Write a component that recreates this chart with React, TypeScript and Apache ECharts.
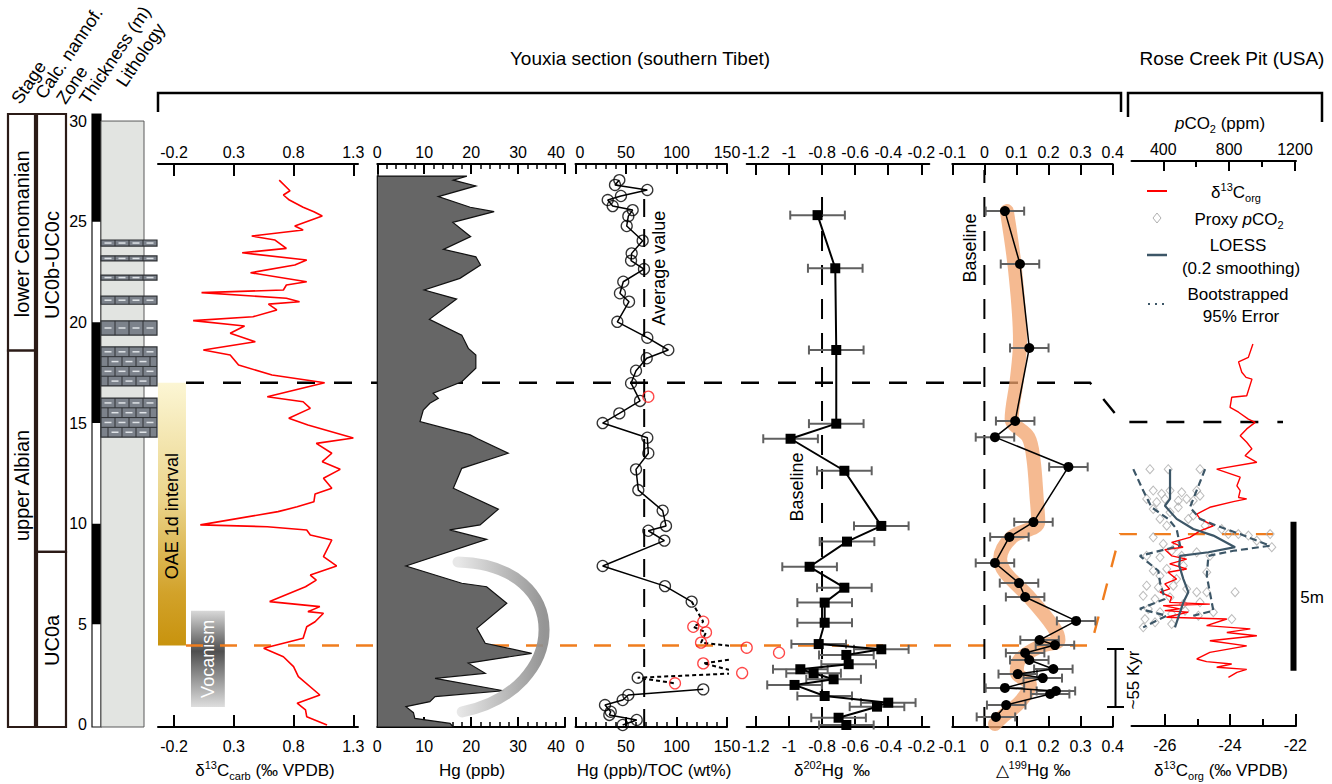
import React, { useEffect, useRef } from 'react';
import * as echarts from 'echarts';

const FONT = 'Arial, "Liberation Sans", Helvetica, sans-serif';

// ---------------- stratigraphic column ----------------
const stageUnits = [
  { name: 'lower Cenomanian', base: 18.6, top: 30.35, labelAt: 24.4 },
  { name: 'upper Albian', base: -0.1, top: 18.6, labelAt: 11.9 },
];
const zoneUnits = [
  { name: 'UC0b-UC0c', base: 8.6, top: 30.35, labelAt: 22.85 },
  { name: 'UC0a', base: -0.1, top: 8.6, labelAt: 4.2 },
];
const thicknessTicks = [0, 5, 10, 15, 20, 25, 30];
const thicknessBlack = [[25, 30.35], [15, 20], [5, 10]];
const limestoneBeds = [
  [23.79, 24.09], [23.05, 23.3], [22.1, 22.35], [20.9, 21.3], [19.37, 20.07], [16.84, 18.78], [14.3, 16.24],
];
const columnHeaders = ['Stage', 'Calc. nannof.', 'Zone', 'Thickness (m)', 'Lithology'];

// ---------------- Youxia section data: [value, thickness m] ----------------
const d13Ccarb = [
  [0.68, 27.07], [0.77, 26.54], [0.715, 26.33], [0.765, 26.08], [0.88, 25.72], [0.97, 25.5], [1.04, 25.29],
  [0.81, 24.79], [0.88, 24.59], [0.45, 24.29], [0.645, 24.09], [0.74, 23.68], [0.37, 23.46], [0.91, 23.1],
  [0.81, 22.85], [0.44, 22.47], [0.91, 22.02], [0.74, 21.86], [0.715, 21.61], [0.03, 21.48], [0.74, 21.2],
  [0.85, 21.03], [0.59, 20.91], [0.66, 20.62], [0.46, 20.28], [-0.04, 20.09], [0.39, 19.82], [0.27, 19.46],
  [0.48, 19.04], [0.045, 18.63], [0.27, 18.38], [0.34, 17.88], [0.62, 17.39], [1.06, 17.0], [0.58, 16.31],
  [0.88, 16.06], [0.94, 15.73], [0.76, 15.24], [0.92, 14.9], [1.3, 14.26], [0.99, 13.99], [1.12, 13.5],
  [1.04, 13.08], [1.19, 12.7], [1.05, 12.26], [1.12, 11.76], [0.98, 11.48], [0.97, 11.09], [0.83, 10.84],
  [0.67, 10.6], [0.02, 9.94], [0.58, 9.85], [0.91, 9.69], [0.94, 9.44], [1.12, 9.19], [1.05, 8.36],
  [1.16, 7.9], [0.94, 7.45], [0.99, 7.2], [0.9, 6.87], [0.6, 6.13], [1.02, 5.88], [0.92, 5.63], [1.05, 5.55],
  [0.98, 5.13], [0.91, 4.88], [0.88, 4.31], [0.55, 3.81], [0.715, 3.39], [0.8, 2.9], [0.84, 2.4],
  [1.02, 1.49], [0.83, 1.08], [0.9, 0.75], [0.91, 0.41], [1.08, 0.0],
];

const hgPpb = [
  [19.1, 27.27], [16.2, 27.07], [21.0, 26.78], [13.0, 26.25], [19.8, 25.72], [24.9, 25.5], [16.1, 24.97],
  [19.9, 24.26], [14.1, 23.63], [21.0, 23.26], [22.0, 22.85], [17.6, 22.19], [10.0, 21.61], [16.9, 21.16],
  [11.1, 20.15], [18.0, 19.37], [19.4, 18.71], [21.0, 18.38], [21.0, 17.72], [18.0, 17.05], [11.9, 16.48],
  [13.0, 16.23], [11.2, 15.98], [9.8, 15.65], [9.1, 15.07], [19.8, 14.41], [21.4, 14.22], [27.9, 13.5],
  [18.0, 12.75], [16.2, 11.76], [25.8, 10.72], [21.9, 9.94], [15.4, 9.69], [23.3, 9.22], [6.1, 7.9],
  [18.0, 7.04], [23.3, 6.87], [27.6, 6.05], [21.2, 4.8], [23.0, 4.06], [32.9, 3.56], [19.4, 3.07],
  [23.0, 2.57], [12.3, 2.32], [26.9, 1.7], [12.3, 1.41], [11.2, 1.16], [6.1, 0.91], [7.7, 0.61], [8.0, 0.33],
  [15.5, 0.08], [16.2, -0.1],
];
const volcanismArc = [[17.2, 8.1], [42.0, 7.95], [41.0, 1.74], [18.1, 0.65]];

const hgTocUpper = [
  [43.4, 27.07], [39.1, 26.83], [71.1, 26.58], [45, 26.28], [31.9, 26.08], [36.8, 25.78], [56.6, 25.58],
  [52.3, 25.28], [50.7, 24.79], [66.5, 24.06], [55.6, 23.43], [55, 23.07], [67.8, 22.65], [47.3, 22.02],
  [44, 21.45], [53, 21.03], [41.4, 20.03], [71.1, 19.24], [91.9, 18.63], [70.5, 18.22], [59.9, 17.6],
  [55, 16.98], [63.9, 16.1], [43.4, 15.48], [26.9, 15.0], [71.1, 14.27], [72.1, 13.5], [59.9, 12.7],
  [62.2, 11.67], [86.3, 10.65], [89.6, 9.89], [72.1, 9.65], [88, 9.16], [26.9, 7.9], [88.6, 6.9], [115, 6.13],
];
const hgTocDashed = [
  [115, 6.13], [126.5, 5.13], [116.6, 4.88], [129.2, 4.6], [124.3, 4.09], [169.5, 3.84], [201.5, 3.59],
  [126.5, 3.06], [165, 2.58], [61.6, 2.35], [98.5, 2.07],
];
const hgTocLower = [
  [126.5, 1.77], [52.3, 1.49], [46.7, 1.24], [29.2, 0.99], [34.9, 0.66], [33.5, 0.5], [60.6, 0.25], [46.7, 0.0],
];
const hgTocRed = [
  [72.1, 16.31], [126.5, 5.13], [116.6, 4.88], [129.2, 4.6], [124.3, 4.09], [169.5, 3.84], [201.5, 3.59],
  [126.5, 3.06], [165, 2.58], [98.5, 2.07],
];
const hgTocBlack = [...hgTocUpper, [61.6, 2.35], ...hgTocLower];
const hgTocAverage = 68;

const d202Hg = [
  [-0.827, 25.33], [-0.72, 22.69], [-0.714, 18.63], [-0.714, 14.97], [-0.99, 14.22], [-0.665, 12.63],
  [-0.442, 9.89], [-0.649, 9.11], [-0.875, 7.86], [-0.665, 6.82], [-0.784, 6.08], [-0.784, 5.08],
  [-0.82, 4.02], [-0.442, 3.76], [-0.653, 3.48], [-0.639, 3.02], [-0.931, 2.77], [-0.851, 2.57],
  [-0.73, 2.27], [-0.966, 1.99], [-0.784, 1.44], [-0.4, 1.11], [-0.468, 0.91], [-0.7, 0.36], [-0.653, 0.0],
];
const d202Err = 0.165;
const d202Baseline = -0.8;

const D199Hg = [
  [0.064, 25.53], [0.111, 22.9], [0.14, 18.73], [0.096, 15.1], [0.033, 14.3], [0.262, 12.82], [0.153, 10.08],
  [0.078, 9.34], [0.033, 8.05], [0.108, 7.05], [0.127, 6.36], [0.286, 5.17], [0.172, 4.22], [0.22, 3.97],
  [0.127, 3.58], [0.14, 3.23], [0.215, 2.78], [0.104, 2.53], [0.182, 2.33], [0.064, 1.84], [0.223, 1.69],
  [0.205, 1.54], [0.068, 0.99], [0.036, 0.4],
];
const D199Err = 0.06;
const D199Band = [
  [0.07, 25.53], [0.096, 22.55], [0.111, 19.08], [0.101, 17.14], [0.085, 15.2], [0.137, 14.3], [0.153, 13.2],
  [0.163, 11.28], [0.168, 10.08], [0.085, 9.32], [0.049, 8.25], [0.064, 7.6], [0.142, 6.31], [0.215, 4.88],
  [0.231, 4.22], [0.174, 3.91], [0.111, 3.27], [0.101, 2.62], [0.142, 2.0], [0.111, 1.14], [0.059, 0.45],
  [0.033, 0.05],
];
const D199Baseline = 0;

// ---------------- Rose Creek Pit data: [value, m] ----------------
const rcD13Corg = [
  [-23.3, 12.82], [-23.44, 12.37], [-23.74, 12.22], [-23.64, 11.87], [-23.51, 11.7], [-23.33, 11.64],
  [-23.49, 11.08], [-23.95, 11.03], [-24.0, 10.69], [-23.74, 10.53], [-23.44, 10.3], [-23.23, 10.19],
  [-23.49, 9.97], [-23.69, 9.74], [-23.49, 9.52], [-23.33, 9.3], [-23.54, 9.07], [-23.18, 8.85],
  [-24.41, 8.62], [-23.69, 8.35], [-23.79, 8.06], [-23.69, 7.9], [-23.74, 7.67], [-23.49, 7.62],
  [-23.9, 7.53], [-24.62, 7.34], [-25.02, 7.11], [-24.92, 6.95], [-24.51, 6.72], [-24.92, 6.55],
  [-25.23, 6.33], [-25.79, 6.16], [-25.44, 6.0], [-26.0, 5.92], [-25.79, 5.71], [-25.33, 5.6],
  [-25.85, 5.44], [-25.33, 5.27], [-25.9, 5.16], [-25.64, 4.93], [-26.0, 4.77], [-25.85, 4.6],
  [-26.15, 4.49], [-25.79, 4.32], [-25.85, 4.15], [-24.62, 4.09], [-26.05, 4.04], [-25.54, 3.93],
  [-26.0, 3.87], [-25.28, 3.82], [-25.95, 3.65], [-24.1, 3.59], [-24.72, 3.37], [-23.38, 3.26],
  [-24.1, 3.14], [-23.18, 3.03], [-24.62, 2.86], [-23.49, 2.69], [-24.62, 2.47], [-25.02, 2.25],
  [-24.72, 2.16], [-23.95, 2.08], [-24.41, 1.97], [-23.49, 1.9], [-23.79, 1.8], [-24.05, 1.63],
];
const rcPco2Proxy = [
  [319, 8.62], [430, 8.62], [623, 8.62], [339, 7.9], [390, 7.79], [441, 7.9], [512, 7.84], [603, 7.9],
  [299, 7.62], [360, 7.51], [410, 7.62], [491, 7.56], [542, 7.62], [582, 7.56], [623, 7.73], [339, 7.28],
  [441, 7.17], [491, 7.34], [582, 7.06], [380, 6.95], [421, 6.72], [552, 6.95], [654, 6.72], [755, 6.61],
  [795, 6.44], [856, 6.44], [917, 6.39], [968, 6.22], [1049, 6.44], [1059, 6.0], [339, 6.33], [400, 6.11],
  [481, 6.05], [299, 5.71], [380, 5.66], [451, 5.88], [512, 5.71], [603, 5.83], [684, 5.71], [339, 5.21],
  [421, 5.27], [522, 5.38], [664, 5.16], [380, 5.04], [481, 4.93], [299, 4.71], [370, 4.65], [461, 4.71],
  [542, 4.6], [603, 4.49], [664, 4.49], [836, 4.49], [278, 4.37], [350, 4.26], [441, 4.32], [522, 4.09],
  [623, 4.15], [309, 3.93], [380, 3.82], [451, 3.76], [532, 3.87], [613, 3.7], [704, 3.82], [816, 3.59],
  [278, 3.31], [350, 3.48], [451, 3.42], [289, 3.59],
];
const rcLoess = [
  [441, 8.62], [441, 7.62], [410, 7.39], [481, 6.95], [582, 6.61], [704, 6.39], [836, 6.0], [674, 5.83],
  [502, 5.71], [497, 5.38], [522, 4.93], [552, 4.49], [522, 4.15], [502, 3.82], [471, 3.31],
];
const rcErrLower = [
  [218, 8.62], [278, 7.9], [329, 7.34], [430, 6.95], [481, 6.61], [502, 6.05], [258, 5.71], [370, 5.21],
  [380, 4.82], [410, 4.26], [258, 3.93], [420, 3.7], [278, 3.31],
];
const rcErrUpper = [
  [654, 8.62], [562, 7.34], [623, 6.95], [725, 6.72], [866, 6.44], [1049, 6.05], [826, 5.88], [674, 5.71],
  [664, 5.04], [704, 3.87], [582, 3.7],
];

// intervals / correlation levels
const oaeInterval = [3.95, 17.0];
const volcanismInterval = [0.89, 5.68];
const youxiaLevels = { top: 17.0, base: 3.95 };
const roseLevels = { top: 10.2, base: 6.44 };
const roseScaleBar = [1.85, 6.85];

// tick values
const d13CarbTicks = [-0.2, 0.3, 0.8, 1.3];
const d202Ticks = [-1.2, -1, -0.8, -0.6, -0.4, -0.2];
const D199Ticks = [-0.1, 0, 0.1, 0.2, 0.3, 0.4];
const pco2Ticks = [400, 800, 1200];
const pco2Minor = [600, 1000];
const rcTicks = [-26, -24, -22];
const rcMinor = [-25, -23];

const Y_MIN = -0.1;
const Y_MAX = 27.87;
const S_MAX = 30.35;
const RC_MAX = 18.96;

const fmt1 = (v: number) => String(Math.round(v * 10) / 10);
const fmtPlain = (v: number) => String(v);

function xAx(gridIndex: number, position: string, min: number, max: number, o: any = {}) {
  const ax: any = {
    type: 'value', gridIndex, position, min, max,
    axisLine: { show: o.line !== false, onZero: false, lineStyle: { color: '#000', width: 2 } },
    axisTick: { show: true, inside: true, length: o.tickLen ?? 11, lineStyle: { color: '#000', width: 2 } },
    minorTick: o.minor
      ? { show: true, splitNumber: o.minor, length: 5, lineStyle: { color: '#000', width: 1.5 } }
      : { show: false },
    axisLabel: o.labels === false
      ? { show: false }
      : { show: true, margin: position === 'top' ? 4 : 11, fontSize: 16, fontFamily: FONT, color: '#000' },
    splitLine: { show: false },
  };
  if (o.ticks) ax.axisTick.customValues = o.ticks;
  if (o.labels !== false) {
    if (o.labelValues) ax.axisLabel.customValues = o.labelValues;
    if (o.fmt) ax.axisLabel.formatter = o.fmt;
    if (o.alignMax) ax.axisLabel.alignMaxLabel = o.alignMax;
    if (o.alignMin) ax.axisLabel.alignMinLabel = o.alignMin;
  }
  if (o.interval) ax.interval = o.interval;
  return ax;
}

function yAx(gridIndex: number, min: number, max: number, o: any = {}) {
  return {
    type: 'value', gridIndex, min, max, show: o.show ?? false,
    axisLine: { show: !!o.line, onZero: false, lineStyle: { color: '#000', width: 1.5 } },
    axisTick: { show: false },
    axisLabel: o.labels
      ? { show: true, customValues: o.labels, margin: 5, fontSize: 16, fontFamily: FONT, color: '#000' }
      : { show: false },
    splitLine: { show: false },
  };
}

function unitSeries(units: any[], x0: number, x1: number, fontSize: number) {
  return {
    type: 'custom', xAxisIndex: 0, yAxisIndex: 0, silent: true,
    data: units.map((u) => [x0, u.labelAt]),
    renderItem: (params: any, api: any) => {
      const u = units[params.dataIndex];
      const a = api.coord([x0, u.top]);
      const b = api.coord([x1, u.base]);
      const m = api.coord([(x0 + x1) / 2, u.labelAt]);
      return {
        type: 'group',
        children: [
          { type: 'rect', shape: { x: a[0], y: a[1], width: b[0] - a[0], height: b[1] - a[1] },
            style: { fill: '#fff', stroke: '#2b1b17', lineWidth: 2.2 } },
          { type: 'text', x: m[0], y: m[1], rotation: Math.PI / 2,
            style: { text: u.name, fontSize, fontFamily: FONT, fill: '#000', align: 'center', verticalAlign: 'middle',
              textAlign: 'center', textVerticalAlign: 'middle' } },
        ],
      };
    },
  };
}

function errSeries(xi: number, yi: number, data: number[][], err: number) {
  return {
    type: 'custom', xAxisIndex: xi, yAxisIndex: yi, silent: true, z: 2,
    data: data.map((p) => [p[0], p[1]]),
    renderItem: (params: any, api: any) => {
      const x = api.value(0);
      const y = api.value(1);
      const l = api.coord([x - err, y]);
      const r = api.coord([x + err, y]);
      const st = { stroke: '#606060', lineWidth: 2 };
      return {
        type: 'group',
        children: [
          { type: 'line', shape: { x1: l[0], y1: l[1], x2: r[0], y2: r[1] }, style: st },
          { type: 'line', shape: { x1: l[0], y1: l[1] - 4.5, x2: l[0], y2: l[1] + 4.5 }, style: st },
          { type: 'line', shape: { x1: r[0], y1: r[1] - 4.5, x2: r[0], y2: r[1] + 4.5 }, style: st },
        ],
      };
    },
  };
}

function buildOption() {
  const grid = [
    { left: 8, top: 114, width: 60, height: 613 },
    { left: 92, top: 114, width: 9, height: 613 },
    { left: 101, top: 114, width: 56, height: 613 },
    { left: 158, top: 164, width: 200, height: 563 },
    { left: 377.3, top: 164, width: 187.7, height: 563 },
    { left: 575.5, top: 164, width: 151.5, height: 563 },
    { left: 746.7, top: 164, width: 182.6, height: 563 },
    { left: 952.3, top: 164, width: 160.4, height: 563 },
    { left: 1131.5, top: 161, width: 164.5, height: 565 },
  ];
  const hidden = (gi: number, min: number, max: number) => ({
    type: 'value', gridIndex: gi, min, max, show: false, splitLine: { show: false },
    axisLine: { onZero: false },
  });
  const xAxis = [
    hidden(0, 0, 60), // 0
    hidden(1, 0, 1), // 1
    hidden(2, 0, 56), // 2
    xAx(3, 'top', -0.334, 1.339, { ticks: d13CarbTicks, labelValues: d13CarbTicks, fmt: fmt1, tickLen: 12 }), // 3
    xAx(3, 'bottom', -0.334, 1.339, { ticks: d13CarbTicks, labelValues: d13CarbTicks, fmt: fmt1, tickLen: 12 }), // 4
    xAx(4, 'top', 0, 40, { interval: 10, minor: 5, tickLen: 10, alignMax: 'right' }), // 5
    xAx(4, 'bottom', 0, 40, { interval: 10, minor: 5, tickLen: 10, alignMax: 'right' }), // 6
    xAx(5, 'top', 0, 150, { interval: 50, minor: 5, tickLen: 10, alignMin: 'left' }), // 7
    xAx(5, 'bottom', 0, 150, { interval: 50, minor: 5, tickLen: 10, alignMin: 'left' }), // 8
    xAx(6, 'top', -1.255, -0.152, { ticks: d202Ticks, labelValues: d202Ticks, fmt: fmt1, tickLen: 11 }), // 9
    xAx(6, 'bottom', -1.255, -0.152, { ticks: d202Ticks, labelValues: d202Ticks, fmt: fmt1, tickLen: 11 }), // 10
    xAx(7, 'top', -0.1, 0.4, { ticks: D199Ticks, labelValues: D199Ticks, fmt: fmt1, tickLen: 11 }), // 11
    xAx(7, 'bottom', -0.1, 0.4, { ticks: D199Ticks, labelValues: D199Ticks, fmt: fmt1, tickLen: 11 }), // 12
    xAx(8, 'top', 207, 1206, { ticks: pco2Ticks, labelValues: pco2Ticks, fmt: fmtPlain, tickLen: 10 }), // 13
    xAx(8, 'top', 207, 1206, { ticks: pco2Minor, labels: false, line: false, tickLen: 6 }), // 14
    xAx(8, 'bottom', -27.02, -21.98, { ticks: rcTicks, labelValues: rcTicks, fmt: fmtPlain, tickLen: 12 }), // 15
    xAx(8, 'bottom', -27.02, -21.98, { ticks: rcMinor, labels: false, line: false, tickLen: 7 }), // 16
  ];
  const yAxis = [
    yAx(0, Y_MIN, S_MAX),
    yAx(1, Y_MIN, S_MAX, { show: true, labels: thicknessTicks }),
    yAx(2, Y_MIN, S_MAX),
    yAx(3, Y_MIN, Y_MAX),
    yAx(4, Y_MIN, Y_MAX, { show: true, line: true }),
    yAx(5, Y_MIN, Y_MAX),
    yAx(6, Y_MIN, Y_MAX),
    yAx(7, Y_MIN, Y_MAX),
    yAx(8, 0, RC_MAX),
  ];

  const series: any[] = [
    unitSeries(stageUnits, 0, 27, 20),
    unitSeries(zoneUnits, 29, 58, 20),
    // thickness bar
    {
      type: 'custom', xAxisIndex: 1, yAxisIndex: 1, silent: true, data: [[0.5, 15]],
      renderItem: (params: any, api: any) => {
        const a = api.coord([0, S_MAX]);
        const b = api.coord([1, Y_MIN]);
        const children: any[] = [
          { type: 'rect', shape: { x: a[0], y: a[1], width: b[0] - a[0], height: b[1] - a[1] },
            style: { fill: '#fff', stroke: '#111', lineWidth: 1.2 } },
        ];
        thicknessBlack.forEach(([lo, hi]) => {
          const p = api.coord([0, hi]);
          const q = api.coord([1, lo]);
          children.push({ type: 'rect', shape: { x: p[0], y: p[1], width: q[0] - p[0], height: q[1] - p[1] },
            style: { fill: '#000' } });
        });
        return { type: 'group', children };
      },
    },
    // lithology background
    {
      type: 'custom', xAxisIndex: 2, yAxisIndex: 2, silent: true, data: [[20, 15]],
      renderItem: (params: any, api: any) => {
        const a = api.coord([0, 30]);
        const b = api.coord([43, Y_MIN]);
        return { type: 'rect', shape: { x: a[0], y: a[1], width: b[0] - a[0], height: b[1] - a[1] },
          style: { fill: '#e2e4e1', stroke: '#5a5a5a', lineWidth: 1 } };
      },
    },
    // limestone beds
    {
      type: 'custom', xAxisIndex: 2, yAxisIndex: 2, silent: true, z: 3,
      data: limestoneBeds.map((b) => [28, (b[0] + b[1]) / 2]),
      renderItem: (params: any, api: any) => {
        const [lo, hi] = limestoneBeds[params.dataIndex];
        const a = api.coord([0, hi]);
        const b = api.coord([56, lo]);
        const x0 = a[0], y0 = a[1], w = b[0] - a[0], h = b[1] - a[1];
        const rows = Math.max(1, Math.round(h / 9.6));
        const rh = h / rows;
        const dark = '#2e3135';
        const light = '#dfe3e7';
        const children: any[] = [
          { type: 'rect', shape: { x: x0, y: y0, width: w, height: h }, style: { fill: '#7c828b', stroke: dark, lineWidth: 1.2 } },
        ];
        for (let r = 0; r < rows; r++) {
          const ry = y0 + r * rh;
          if (r > 0) children.push({ type: 'line', shape: { x1: x0, y1: ry, x2: x0 + w, y2: ry }, style: { stroke: dark, lineWidth: 1 } });
          const off = r % 2 ? 7 : 0;
          for (let bx = x0 + off; bx < x0 + w - 1; bx += 14) {
            if (bx > x0 + 1) children.push({ type: 'line', shape: { x1: bx, y1: ry, x2: bx, y2: ry + rh }, style: { stroke: dark, lineWidth: 1 } });
            const cx = bx + 7;
            if (cx + 3 < x0 + w) children.push({ type: 'line', shape: { x1: cx - 3.5, y1: ry + rh / 2, x2: cx + 3.5, y2: ry + rh / 2 }, style: { stroke: light, lineWidth: 1.5 } });
          }
        }
        return { type: 'group', children };
      },
    },
    // d13C carb
    {
      type: 'line', xAxisIndex: 4, yAxisIndex: 3, data: d13Ccarb, showSymbol: false, symbol: 'none', z: 3,
      lineStyle: { color: '#ff0000', width: 1.6 }, silent: true,
    },
    // Hg area
    {
      type: 'custom', xAxisIndex: 6, yAxisIndex: 4, silent: true, z: 3, data: [[10, 10]],
      renderItem: (params: any, api: any) => {
        const pts = [api.coord([0, hgPpb[0][1]]), ...hgPpb.map((p) => api.coord(p)), api.coord([0, hgPpb[hgPpb.length - 1][1]])];
        return { type: 'polygon', shape: { points: pts }, style: { fill: '#666666', stroke: '#111', lineWidth: 1.2 } };
      },
    },
    // volcanism arc
    {
      type: 'custom', xAxisIndex: 6, yAxisIndex: 4, silent: true, z: 4, data: [[10, 10]], clip: false,
      renderItem: (params: any, api: any) => {
        const [a, b, c, d] = volcanismArc.map((q) => api.coord(q));
        return {
          type: 'bezierCurve',
          shape: { x1: a[0], y1: a[1], cpx1: b[0], cpy1: b[1], cpx2: c[0], cpy2: c[1], x2: d[0], y2: d[1] },
          style: {
            fill: 'none', lineWidth: 11, lineCap: 'round', opacity: 0.92,
            stroke: { type: 'linear', x: 0, y: 0, x2: 1, y2: 0, colorStops: [
              { offset: 0, color: '#e6e6e6' }, { offset: 1, color: '#8c8c8c' }] },
          },
        };
      },
    },
    // Hg/TOC
    {
      type: 'line', xAxisIndex: 8, yAxisIndex: 5, silent: true, symbol: 'none', z: 2,
      data: [[hgTocAverage, Y_MIN], [hgTocAverage, 26.7]],
      lineStyle: { color: '#000', width: 2, type: [18, 12] },
    },
    { type: 'line', xAxisIndex: 8, yAxisIndex: 5, silent: true, symbol: 'none', z: 3, data: hgTocUpper,
      lineStyle: { color: '#000', width: 1.5 } },
    { type: 'line', xAxisIndex: 8, yAxisIndex: 5, silent: true, symbol: 'none', z: 3, data: hgTocDashed, clip: false,
      lineStyle: { color: '#000', width: 2, type: [4, 3] } },
    { type: 'line', xAxisIndex: 8, yAxisIndex: 5, silent: true, symbol: 'none', z: 3, data: hgTocLower,
      lineStyle: { color: '#000', width: 1.5 } },
    { type: 'scatter', xAxisIndex: 8, yAxisIndex: 5, silent: true, z: 4, data: hgTocBlack, symbol: 'circle', symbolSize: 11,
      itemStyle: { color: 'rgba(0,0,0,0)', borderColor: '#000', borderWidth: 1.3 } },
    { type: 'scatter', xAxisIndex: 8, yAxisIndex: 5, silent: true, z: 5, data: hgTocRed, symbol: 'circle', symbolSize: 11, clip: false,
      itemStyle: { color: 'rgba(0,0,0,0)', borderColor: '#ff1a1a', borderWidth: 1.3 } },
    // d202Hg
    {
      type: 'line', xAxisIndex: 10, yAxisIndex: 6, silent: true, symbol: 'none', z: 1,
      data: [[d202Baseline, Y_MIN], [d202Baseline, 26.5]],
      lineStyle: { color: '#000', width: 2, type: [20, 14] },
    },
    errSeries(10, 6, d202Hg, d202Err),
    { type: 'line', xAxisIndex: 10, yAxisIndex: 6, silent: true, z: 4, data: d202Hg, symbol: 'rect', symbolSize: 10,
      showSymbol: true, itemStyle: { color: '#000' }, lineStyle: { color: '#000', width: 2 } },
    // D199Hg
    {
      type: 'line', xAxisIndex: 12, yAxisIndex: 7, silent: true, symbol: 'none', z: 1,
      data: [[D199Baseline, Y_MIN], [D199Baseline, 27.57]],
      lineStyle: { color: '#000', width: 2, type: [20, 14] },
    },
    { type: 'line', xAxisIndex: 12, yAxisIndex: 7, silent: true, symbol: 'none', z: 1, smooth: 0.35, data: D199Band,
      lineStyle: { color: '#f2a36c', width: 14, opacity: 0.75, cap: 'round', join: 'round' } },
    errSeries(12, 7, D199Hg, D199Err),
    { type: 'line', xAxisIndex: 12, yAxisIndex: 7, silent: true, z: 4, data: D199Hg, symbol: 'circle', symbolSize: 10,
      showSymbol: true, itemStyle: { color: '#000' }, lineStyle: { color: '#000', width: 1.5 } },
    // Rose Creek
    { type: 'scatter', xAxisIndex: 13, yAxisIndex: 8, silent: true, z: 2, data: rcPco2Proxy, symbol: 'diamond', symbolSize: [8, 9],
      itemStyle: { color: 'rgba(255,255,255,0)', borderColor: '#ababab', borderWidth: 1 } },
    { type: 'line', xAxisIndex: 15, yAxisIndex: 8, silent: true, z: 3, data: rcD13Corg, symbol: 'none',
      lineStyle: { color: '#ff0000', width: 1.4 } },
    { type: 'line', xAxisIndex: 13, yAxisIndex: 8, silent: true, z: 4, data: rcErrLower, symbol: 'none',
      lineStyle: { color: '#3c5667', width: 2.2, type: [7, 4] } },
    { type: 'line', xAxisIndex: 13, yAxisIndex: 8, silent: true, z: 4, data: rcErrUpper, symbol: 'none',
      lineStyle: { color: '#3c5667', width: 2.2, type: [7, 4] } },
    { type: 'line', xAxisIndex: 13, yAxisIndex: 8, silent: true, z: 5, data: rcLoess, symbol: 'none',
      lineStyle: { color: '#3c5667', width: 2.2 } },
  ];

  return { animation: false, backgroundColor: '#fff', grid, xAxis, yAxis, series };
}

function rich(size: number) {
  const s = Math.round(size * 0.64);
  return {
    n: { fontSize: size, fontFamily: FONT, fill: '#000', lineHeight: 22 },
    i: { fontSize: size, fontFamily: FONT, fill: '#000', lineHeight: 22, fontStyle: 'italic' },
    sup: { fontSize: s, fontFamily: FONT, fill: '#000', lineHeight: s + 1, verticalAlign: 'top' },
    sub: { fontSize: s, fontFamily: FONT, fill: '#000', lineHeight: s + 1, verticalAlign: 'bottom' },
  };
}

function txt(x: number, y: number, text: string, o: any = {}) {
  const size = o.size || 16;
  const style: any = {
    text, fontSize: size, fontFamily: FONT, fill: o.color || '#000',
    textAlign: o.align || 'center', textVerticalAlign: o.va || 'middle',
    align: o.align || 'center', verticalAlign: o.va || 'middle',
  };
  if (o.rich) style.rich = rich(size);
  return { type: 'text', x, y, rotation: o.rot || 0, z: o.z ?? 10, silent: true, style };
}

function buildGraphic(chart: any) {
  const toPx = (xi: number, yi: number, x: number, y: number) =>
    chart.convertToPixel({ xAxisIndex: xi, yAxisIndex: yi }, [x, y]) as number[];
  const g: any[] = [];

  // titles and brackets
  g.push(txt(640, 58, 'Youxia section (southern Tibet)', { size: 19 }));
  g.push(txt(1232, 58, 'Rose Creek Pit (USA)', { size: 19 }));
  g.push({ type: 'polyline', z: 10, silent: true, shape: { points: [[158, 112], [158, 93], [1121, 93], [1121, 112]] },
    style: { stroke: '#000', lineWidth: 2.5, fill: 'none' } });
  g.push({ type: 'polyline', z: 10, silent: true, shape: { points: [[1128, 117], [1128, 93], [1322, 93], [1322, 122]] },
    style: { stroke: '#000', lineWidth: 2.5, fill: 'none' } });

  // column headers (slanted)
  const rot = 0.98;
  const headerAnchors = [[23, 107], [47, 102], [68, 107], [91, 107], [128, 90]];
  columnHeaders.forEach((h, i) => {
    g.push(txt(headerAnchors[i][0], headerAnchors[i][1], h, { size: 18, rot, align: 'left', va: 'bottom' }));
  });

  // OAE and volcanism bars (d13C panel coordinates)
  const o1 = toPx(4, 3, -0.334, oaeInterval[1]);
  const o2 = toPx(4, 3, -0.1, oaeInterval[0]);
  g.push({ type: 'rect', z: 0, silent: true, shape: { x: o1[0], y: o1[1], width: o2[0] - o1[0], height: o2[1] - o1[1] },
    style: { fill: { type: 'linear', x: 0, y: 0, x2: 0, y2: 1, colorStops: [
      { offset: 0, color: '#fcf6d4' }, { offset: 0.45, color: '#ead48a' }, { offset: 0.8, color: '#d2a22a' }, { offset: 1, color: '#c8930e' }] } } });
  g.push(txt((o1[0] + o2[0]) / 2, (o1[1] + o2[1]) / 2 + 2, 'OAE 1d interval', { size: 18, rot: Math.PI / 2, z: 0 }));
  const v1 = toPx(4, 3, -0.058, volcanismInterval[1]);
  const v2 = toPx(4, 3, 0.225, volcanismInterval[0]);
  g.push({ type: 'rect', z: 0, silent: true, shape: { x: v1[0], y: v1[1], width: v2[0] - v1[0], height: v2[1] - v1[1] },
    style: { fill: { type: 'linear', x: 0, y: 0, x2: 0, y2: 1, colorStops: [
      { offset: 0, color: '#d9d9d9' }, { offset: 0.42, color: '#4f4f4f' }, { offset: 1, color: '#dedede' }] } } });
  g.push(txt((v1[0] + v2[0]) / 2, (v1[1] + v2[1]) / 2, 'Vocanism', { size: 18, rot: Math.PI / 2, color: '#fff', z: 0 }));

  // correlation dashed lines
  const yTop = toPx(4, 3, 0, youxiaLevels.top)[1];
  const yBase = toPx(4, 3, 0, youxiaLevels.base)[1];
  const rTop = toPx(15, 8, -24, roseLevels.top)[1];
  const rBase = toPx(15, 8, -24, roseLevels.base)[1];
  g.push({ type: 'polyline', z: 1, silent: true, shape: { points: [[186, yTop], [1090, yTop], [1122, rTop], [1283, rTop]] },
    style: { stroke: '#000', lineWidth: 2.4, lineDash: [18, 19], fill: 'none' } });
  g.push({ type: 'polyline', z: 1, silent: true, shape: { points: [[186, yBase], [1091, yBase], [1120, rBase], [1285, rBase]] },
    style: { stroke: '#f07d1e', lineWidth: 2.4, lineDash: [17, 17], fill: 'none' } });

  // in-panel labels
  g.push(txt(659, 268, 'Average value', { size: 18, rot: Math.PI / 2 }));
  g.push(txt(797, 487, 'Baseline', { size: 18, rot: Math.PI / 2 }));
  g.push(txt(970, 248, 'Baseline', { size: 18, rot: Math.PI / 2 }));

  // axis names
  g.push(txt(265, 770, '{n|δ}{sup|13}{n|C}{sub|carb}{n| (‰ VPDB)}', { size: 17, rich: true }));
  g.push(txt(472, 770, 'Hg (ppb)', { size: 17 }));
  g.push(txt(654, 770, 'Hg (ppb)/TOC (wt%)', { size: 17 }));
  g.push(txt(832, 770, '{n|δ}{sup|202}{n|Hg  ‰}', { size: 17, rich: true }));
  g.push(txt(1033, 770, '{n|△}{sup|199}{n|Hg ‰}', { size: 17, rich: true }));
  g.push(txt(1221, 770, '{n|δ}{sup|13}{n|C}{sub|org}{n| (‰ VPDB)}', { size: 17, rich: true }));
  g.push(txt(1220, 123, '{i|p}{n|CO}{sub|2}{n| (ppm)}', { size: 17, rich: true }));

  // legend
  g.push({ type: 'line', z: 10, silent: true, shape: { x1: 1147, y1: 191, x2: 1167, y2: 191 }, style: { stroke: '#ff0000', lineWidth: 2 } });
  g.push(txt(1236, 192, '{n|δ}{sup|13}{n|C}{sub|org}', { size: 17, rich: true }));
  g.push({ type: 'polygon', z: 10, silent: true, shape: { points: [[1157, 213], [1161, 218], [1157, 223], [1153, 218]] },
    style: { fill: '#fff', stroke: '#b0b0b0', lineWidth: 1 } });
  g.push(txt(1239, 219, '{n|Proxy }{i|p}{n|CO}{sub|2}', { size: 17, rich: true }));
  g.push({ type: 'line', z: 10, silent: true, shape: { x1: 1147, y1: 255, x2: 1167, y2: 255 }, style: { stroke: '#3c5667', lineWidth: 2.5 } });
  g.push(txt(1238, 245, 'LOESS', { size: 17 }));
  g.push(txt(1241, 268, '(0.2 smoothing)', { size: 17 }));
  g.push({ type: 'line', z: 10, silent: true, shape: { x1: 1148, y1: 304, x2: 1167, y2: 304 },
    style: { stroke: '#3c5667', lineWidth: 2, lineDash: [2, 5] } });
  g.push(txt(1238, 294, 'Bootstrapped', { size: 17 }));
  g.push(txt(1241, 316, '95% Error', { size: 17 }));

  // 5 m scale bar (Rose Creek metres)
  const s1 = toPx(15, 8, -22.1, roseScaleBar[1]);
  const s2 = toPx(15, 8, -22.1, roseScaleBar[0]);
  g.push({ type: 'rect', z: 10, silent: true, shape: { x: 1290.5, y: s1[1], width: 6, height: s2[1] - s1[1] }, style: { fill: '#000' } });
  g.push(txt(1312, (s1[1] + s2[1]) / 2 + 1, '5m', { size: 17 }));

  // ~55 Kyr bar
  g.push({ type: 'polyline', z: 10, silent: true, shape: { points: [[1107, 649], [1124, 649]] }, style: { stroke: '#000', lineWidth: 2 } });
  g.push({ type: 'polyline', z: 10, silent: true, shape: { points: [[1107, 707], [1124, 707]] }, style: { stroke: '#000', lineWidth: 2 } });
  g.push({ type: 'line', z: 10, silent: true, shape: { x1: 1115.5, y1: 649, x2: 1115.5, y2: 707 }, style: { stroke: '#000', lineWidth: 2 } });
  g.push(txt(1133, 680, '~55 Kyr', { size: 17, rot: Math.PI / 2 }));

  return g;
}

export default function App() {
  const ref = useRef<HTMLDivElement>(null);
  useEffect(() => {
    const prev = document.body.style.margin;
    document.body.style.margin = '0';
    const chart = echarts.init(ref.current as HTMLDivElement, null, { renderer: 'svg' });
    chart.setOption(buildOption() as any);
    chart.setOption({ graphic: buildGraphic(chart) } as any);
    return () => {
      chart.dispose();
      document.body.style.margin = prev;
    };
  }, []);
  return <div ref={ref} style={{ width: 1332, height: 784, background: '#fff' }} />;
}
